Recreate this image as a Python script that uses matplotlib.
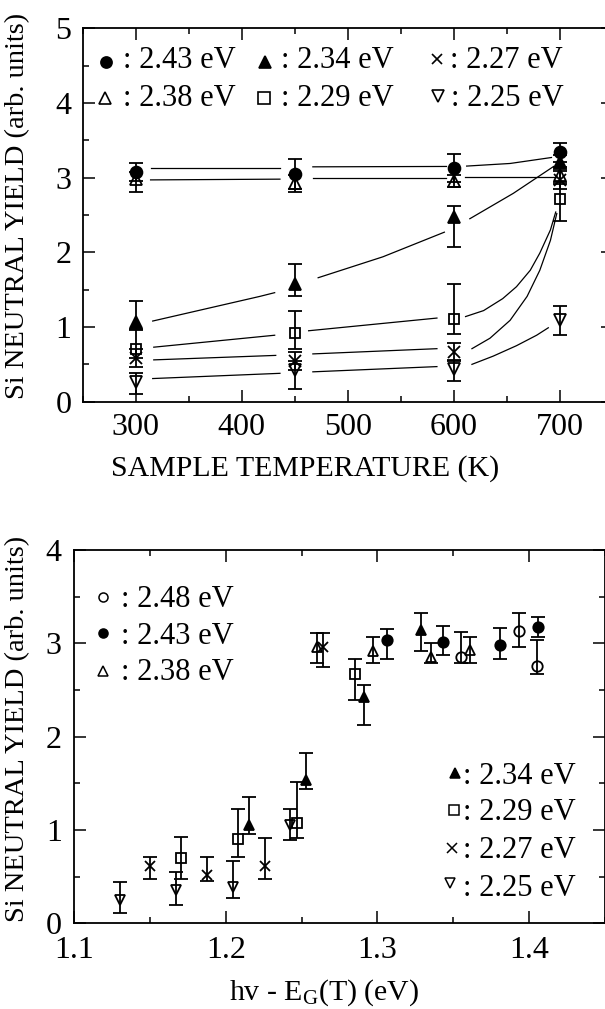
import numpy as np
import matplotlib
matplotlib.use("Agg")
import matplotlib.pyplot as plt
from matplotlib.ticker import MultipleLocator

plt.rcParams['font.family'] = ['Liberation Serif', 'DejaVu Serif']
plt.rcParams['mathtext.fontset'] = 'custom'
plt.rcParams['mathtext.rm'] = 'Liberation Serif'
plt.rcParams['mathtext.it'] = 'Liberation Serif:italic'

# ---------------- top panel data (sample temperature scan) ----------------
temps = [300, 450, 600, 700]
top_energies = ['2.43 eV', '2.38 eV', '2.34 eV', '2.29 eV', '2.27 eV', '2.25 eV']

y_243 = [3.07, 3.05, 3.13, 3.34]
lo_243 = [0.12, 0.20, 0.19, 0.13]
hi_243 = [0.12, 0.20, 0.19, 0.13]

y_238 = [2.98, 2.93, 2.95, 3.04]
lo_238 = [0.17, 0.12, 0.08, 0.10]
hi_238 = [0.10, 0.10, 0.08, 0.10]

y_234 = [1.07, 1.58, 2.47, 3.21]
lo_234 = [0.10, 0.16, 0.40, 0.10]
hi_234 = [0.28, 0.27, 0.15, 0.10]

y_229 = [0.71, 0.92, 1.11, 2.71]
lo_229 = [0.12, 0.21, 0.20, 0.29]
hi_229 = [0.25, 0.29, 0.47, 0.20]

y_227 = [0.58, 0.55, 0.67, 2.97]
lo_227 = [0.12, 0.12, 0.12, 0.12]
hi_227 = [0.12, 0.12, 0.12, 0.12]

y_225 = [0.27, 0.42, 0.44, 1.09]
lo_225 = [0.17, 0.25, 0.16, 0.20]
hi_225 = [0.12, 0.12, 0.12, 0.19]

# guide curves, segments separated by gaps
guide_243 = [([314, 436], [3.13, 3.13]), ([467, 593], [3.145, 3.15]),
             ([612, 653, 692], [3.155, 3.19, 3.27])]
guide_238 = [([314, 436], [2.97, 2.98]), ([467, 593], [2.99, 2.99]),
             ([610, 697], [3.01, 3.01])]
guide_234 = [([316, 417, 431], [1.08, 1.41, 1.46]), ([472, 533, 591], [1.66, 1.94, 2.27]),
             ([615, 656, 694], [2.45, 2.79, 3.15])]
guide_229 = [([317, 431], [0.73, 0.89]), ([463, 584], [0.95, 1.12]),
             ([611, 628, 646, 659, 672, 681, 691, 696], [1.14, 1.22, 1.38, 1.54, 1.76, 1.99, 2.30, 2.54])]
guide_227 = [([317, 432], [0.56, 0.62]), ([467, 584], [0.64, 0.71]),
             ([617, 634, 653, 669, 681, 691, 697], [0.71, 0.85, 1.09, 1.41, 1.76, 2.16, 2.52])]
guide_225 = [([316, 436], [0.31, 0.38]), ([467, 584], [0.40, 0.47]),
             ([617, 637, 659, 678, 689], [0.50, 0.61, 0.75, 0.89, 0.99])]

# ---------------- bottom panel data (hv - Eg(T)) ----------------
bot_energies = ['2.48 eV', '2.43 eV', '2.38 eV', '2.34 eV', '2.29 eV', '2.27 eV', '2.25 eV']

x_b248 = [1.355, 1.393, 1.405]
y_b248 = [2.85, 3.13, 2.76]
lo_b248 = [0.06, 0.17, 0.09]
hi_b248 = [0.27, 0.19, 0.28]

x_b243 = [1.306, 1.343, 1.381, 1.406]
y_b243 = [3.04, 3.01, 2.98, 3.18]
lo_b243 = [0.21, 0.13, 0.15, 0.11]
hi_b243 = [0.11, 0.18, 0.18, 0.10]

x_b238 = [1.260, 1.297, 1.335, 1.361]
y_b238 = [2.96, 2.92, 2.85, 2.93]
lo_b238 = [0.17, 0.13, 0.06, 0.14]
hi_b238 = [0.15, 0.15, 0.15, 0.14]

x_b234 = [1.215, 1.253, 1.291, 1.329]
y_b234 = [1.05, 1.54, 2.43, 3.14]
lo_b234 = [0.09, 0.10, 0.31, 0.22]
hi_b234 = [0.30, 0.29, 0.12, 0.18]

x_b229 = [1.1705, 1.208, 1.247, 1.285]
y_b229 = [0.70, 0.90, 1.07, 2.67]
lo_b229 = [0.22, 0.19, 0.16, 0.28]
hi_b229 = [0.22, 0.33, 0.44, 0.16]

x_b227 = [1.150, 1.1875, 1.226, 1.264]
y_b227 = [0.61, 0.52, 0.61, 2.96]
lo_b227 = [0.13, 0.07, 0.13, 0.21]
hi_b227 = [0.10, 0.19, 0.30, 0.15]

x_b225 = [1.130, 1.167, 1.205, 1.242]
y_b225 = [0.25, 0.36, 0.39, 1.05]
lo_b225 = [0.14, 0.16, 0.12, 0.16]
hi_b225 = [0.19, 0.19, 0.28, 0.18]

# ---------------- styles ----------------
W, H = 605, 1009
fig = plt.figure(figsize=(W / 100, H / 100), dpi=100)
fig.patch.set_facecolor('white')

def px(x0, y0, x1, y1):
    return [x0 / W, 1 - y1 / H, (x1 - x0) / W, (y1 - y0) / H]

style = {
    'o_f': dict(marker='o', mfc='black', mec='black'),
    '^_o': dict(marker='^', mfc='none', mec='black'),
    '^_f': dict(marker='^', mfc='black', mec='black'),
    's_o': dict(marker='s', mfc='none', mec='black'),
    'x': dict(marker='x', mfc='none', mec='black'),
    'v_o': dict(marker='v', mfc='none', mec='black'),
    'o_o': dict(marker='o', mfc='none', mec='black'),
}
ms_data = {'o_f': 8.5, '^_o': 8.5, '^_f': 8.5, 's_o': 7.5, 'x': 8.0, 'v_o': 8.5, 'o_o': 7.5}

def draw_err(ax, x, y, lo, hi, key, ms):
    ax.errorbar(x, y, yerr=[lo, hi], fmt='none', ecolor='black',
                elinewidth=1.3, capsize=4.7, capthick=1.3, zorder=3)
    ax.plot(x, y, linestyle='none', ms=ms, mew=1.3, zorder=4, **style[key])

def style_axes(ax, fs=23, pad=8):
    for s in ax.spines.values():
        s.set_linewidth(1.3)
    ax.tick_params(which='both', direction='in', top=True, right=True,
                   labelsize=fs, pad=pad, width=1.1)
    ax.tick_params(which='major', length=8.5)
    ax.tick_params(which='minor', length=4.5)

# ---------------- top panel ----------------
ax1 = fig.add_axes(px(82.7, 28.3, 613, 401.7))
ax1.set_xlim(250, 750)
ax1.set_ylim(0, 5)
ax1.xaxis.set_major_locator(MultipleLocator(100))
ax1.xaxis.set_minor_locator(MultipleLocator(50))
ax1.yaxis.set_major_locator(MultipleLocator(1))
ax1.yaxis.set_minor_locator(MultipleLocator(0.5))
style_axes(ax1)

for guide in [guide_243, guide_238, guide_234, guide_229, guide_227, guide_225]:
    for gx, gy in guide:
        ax1.plot(gx, gy, color='black', lw=0.9, zorder=2)

top_series = [
    (y_243, lo_243, hi_243, 'o_f'),
    (y_238, lo_238, hi_238, '^_o'),
    (y_234, lo_234, hi_234, '^_f'),
    (y_229, lo_229, hi_229, 's_o'),
    (y_227, lo_227, hi_227, 'x'),
    (y_225, lo_225, hi_225, 'v_o'),
]
for yv, lo, hi, key in top_series:
    draw_err(ax1, temps, yv, lo, hi, key, ms_data[key])

# top legend (two rows of three entries)
leg_fs = 22
top_leg = [
    (106, 61.7, 122.7, 68.3, 'o_f', top_energies[0]),
    (265, 61.7, 281.0, 68.3, '^_f', top_energies[2]),
    (437, 59.0, 450.0, 68.3, 'x', top_energies[4]),
    (105, 98.0, 122.7, 106.0, '^_o', top_energies[1]),
    (264, 98.0, 281.0, 106.0, 's_o', top_energies[3]),
    (438, 96.0, 450.5, 106.0, 'v_o', top_energies[5]),
]
for mx, my, tx, ty, key, lab in top_leg:
    fig.lines.append(plt.Line2D([mx / W], [1 - my / H], transform=fig.transFigure,
                                ms=8 if key != 'x' else 7.5, mew=1.2, **style[key]))
    fig.text(tx / W, 1 - ty / H, ': ' + lab, fontsize=leg_fs, ha='left', va='baseline')

fig.text(18 / W, 1 - 206 / H, 'Si NEUTRAL YIELD (arb. units)', fontsize=20.5,
         rotation=90, ha='center', va='center')
fig.text(305 / W, 1 - 476 / H, 'SAMPLE TEMPERATURE (K)', fontsize=21.5,
         ha='center', va='baseline')

# ---------------- bottom panel ----------------
ax2 = fig.add_axes(px(74.15, 550, 605, 923.3))
ax2.set_xlim(1.1, 1.45)
ax2.set_ylim(0, 4)
ax2.xaxis.set_major_locator(MultipleLocator(0.1))
ax2.xaxis.set_minor_locator(MultipleLocator(0.05))
ax2.yaxis.set_major_locator(MultipleLocator(1))
ax2.yaxis.set_minor_locator(MultipleLocator(0.5))
ax2.set_xticks([1.1, 1.2, 1.3, 1.4])
ax2.set_xticklabels(['1.1', '1.2', '1.3', '1.4'])
style_axes(ax2, pad=9)

bot_series = [
    (x_b248, y_b248, lo_b248, hi_b248, 'o_o'),
    (x_b243, y_b243, lo_b243, hi_b243, 'o_f'),
    (x_b238, y_b238, lo_b238, hi_b238, '^_o'),
    (x_b234, y_b234, lo_b234, hi_b234, '^_f'),
    (x_b229, y_b229, lo_b229, hi_b229, 's_o'),
    (x_b227, y_b227, lo_b227, hi_b227, 'x'),
    (x_b225, y_b225, lo_b225, hi_b225, 'v_o'),
]
for xv, yv, lo, hi, key in bot_series:
    draw_err(ax2, xv, yv, lo, hi, key, 7.5)

bot_leg = [
    (103.4, 596.7, 121.0, 606.7, 'o_o', bot_energies[0]),
    (103.4, 633.3, 121.0, 643.5, 'o_f', bot_energies[1]),
    (103.4, 671.0, 121.0, 680.5, '^_o', bot_energies[2]),
    (454.5, 773.3, 463.0, 783.5, '^_f', bot_energies[3]),
    (453.5, 810.0, 463.0, 820.5, 's_o', bot_energies[4]),
    (452.0, 848.3, 463.0, 858.0, 'x', bot_energies[5]),
    (450.0, 883.0, 463.0, 895.5, 'v_o', bot_energies[6]),
]
for mx, my, tx, ty, key, lab in bot_leg:
    fig.lines.append(plt.Line2D([mx / W], [1 - my / H], transform=fig.transFigure,
                                ms=6.5, mew=1.1, **style[key]))
    fig.text(tx / W, 1 - ty / H, ': ' + lab, fontsize=leg_fs, ha='left', va='baseline')

fig.text(18 / W, 1 - 729 / H, 'Si NEUTRAL YIELD (arb. units)', fontsize=20.5,
         rotation=90, ha='center', va='center')
fig.text(324 / W, 1 - 1000 / H, r'hv - E$_\mathregular{G}$(T) (eV)', fontsize=21.5,
         ha='center', va='baseline')

fig.savefig('out.png', dpi=100, facecolor='white')
